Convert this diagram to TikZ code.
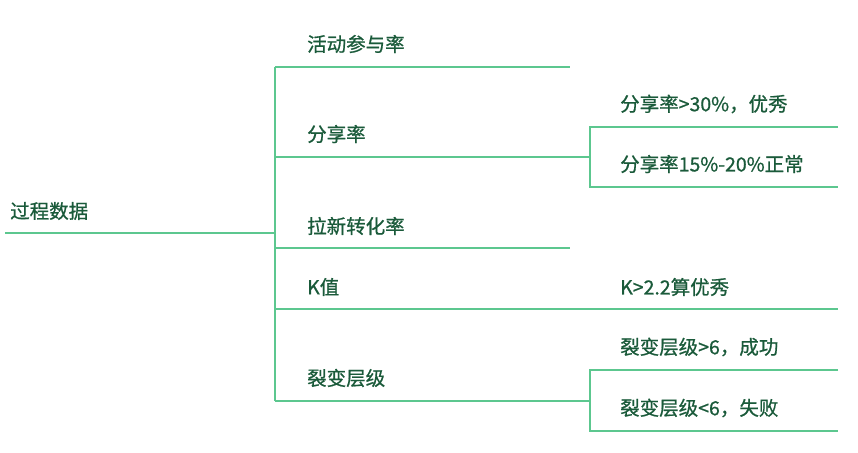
\documentclass[tikz,border=0pt]{standalone}
\usepackage{fontspec}
\newfontfamily\cjk[FakeBold=0.8]{Noto Sans CJK SC}
\usetikzlibrary{positioning}
\definecolor{txtgreen}{HTML}{1A5A3A}
\definecolor{linegreen}{HTML}{5CC78F}
\begin{document}
\begin{tikzpicture}[x=1pt, y=-1pt, font=\cjk\fontsize{19.5}{23}\selectfont]
		\tikzstyle{label} = [anchor=west, inner sep=0pt, text=txtgreen]
		\tikzstyle{branch} = [draw=linegreen, line width=1.3pt]
		\useasboundingbox (0, 0) rectangle (858, 452);
		
		% root and first level
		\node[label]	at (10, 211)	(root)	{过程数据};
		\node[label]	at (307, 44)	(act)	{活动参与率};
		\node[label]	at (307, 134)	(share)	{分享率};
		\node[label]	at (307, 226)	(pull)	{拉新转化率};
		\node[label]	at (307, 287)	(kval)	{K值};
		\node[label]	at (307, 378)	(fiss)	{裂变层级};
		
		% second level
		\node[label]	at (620, 104)	(s1)	{分享率>30\%，优秀};
		\node[label]	at (620, 164)	(s2)	{分享率15\%-20\%正常};
		\node[label]	at (620, 287)	(k1)	{K>2.2算优秀};
		\node[label]	at (620, 347)	(f1)	{裂变层级>6，成功};
		\node[label]	at (620, 408)	(f2)	{裂变层级<6，失败};
		
		\coordinate (r0) at (5, 233);
		\coordinate (r1) at (275, 233);
		\coordinate (top) at (275, 67);
		\coordinate (bot) at (275, 401);
		
		\draw [branch] (r0) -- (r1);
		\draw [branch] (top) -- (bot);
		\draw [branch] (top) -- (570, 67);
		\draw [branch] (275, 157) -- (590, 157);
		\draw [branch] (275, 248) -- (570, 248);
		\draw [branch] (275, 309) -- (838, 309);
		\draw [branch] (bot) -- (590, 401);
		
		\draw [branch] (838, 127) -- (590, 127) -- (590, 187) -- (838, 187);
		\draw [branch] (838, 370) -- (590, 370) -- (590, 431) -- (838, 431);
		
	\end{tikzpicture}
\end{document}
